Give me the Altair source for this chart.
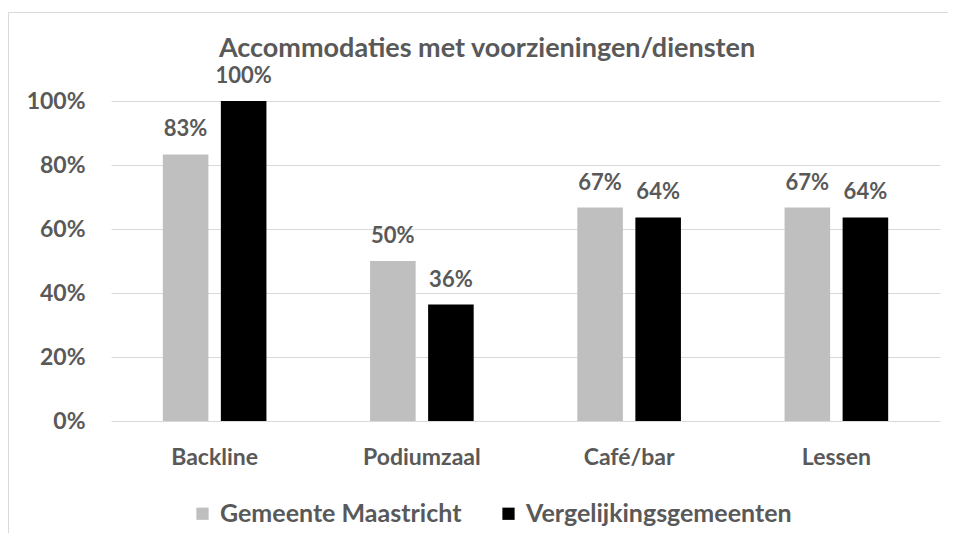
import altair as alt
import pandas as pd

title_text = "Accommodaties met voorzieningen/diensten"
categories = ["Backline", "Podiumzaal", "Café/bar", "Lessen"]
series_names = ["Gemeente Maastricht", "Vergelijkingsgemeenten"]
maastricht = [0.833, 0.50, 0.667, 0.667]
vergelijking = [1.00, 0.364, 0.636, 0.636]
y_ticks = [0, 0.2, 0.4, 0.6, 0.8, 1.0]
colors = ["#bfbfbf", "#000000"]

rows = []
for i, c in enumerate(categories):
    rows.append({"cat": c, "serie": series_names[0], "val": maastricht[i]})
    rows.append({"cat": c, "serie": series_names[1], "val": vergelijking[i]})
df = pd.DataFrame(rows)

FONT = "Lato"
TXT = "#595959"

x = alt.X("cat:N", sort=categories, title=None,
          scale=alt.Scale(paddingInner=0.5, paddingOuter=0.25),
          axis=alt.Axis(labelAngle=0, domain=False, ticks=False, labelPadding=25,
                        labelFont=FONT, labelFontSize=23, labelFontWeight="bold",
                        labelColor=TXT))
xo = alt.XOffset("serie:N", sort=series_names,
                 scale=alt.Scale(paddingInner=0.215, paddingOuter=0))
y = alt.Y("val:Q", title=None,
          scale=alt.Scale(domain=[0, 1]),
          axis=alt.Axis(values=y_ticks, format=".0%", domain=False, ticks=False,
                        labelPadding=26, grid=True, gridColor="#d9d9d9",
                        labelFont=FONT, labelFontSize=23, labelFontWeight="bold",
                        labelColor=TXT))

base = alt.Chart(df).encode(x=x, xOffset=xo, y=y)

bars = base.mark_bar().encode(
    color=alt.Color("serie:N", sort=series_names,
                    scale=alt.Scale(domain=series_names, range=colors),
                    legend=alt.Legend(title=None, orient="none", direction="horizontal",
                                      legendX=79, legendY=400,
                                      symbolType="square", symbolSize=150,
                                      symbolStrokeWidth=0, labelLimit=0,
                                      labelFont=FONT, labelFontSize=25,
                                      labelFontWeight="bold", labelColor=TXT,
                                      columnPadding=34, labelOffset=5))
)

labels = base.mark_text(dy=-18, baseline="alphabetic", font=FONT, fontSize=22,
                        fontWeight="bold", color=TXT).encode(
    text=alt.Text("val:Q", format=".0%")
)

one = pd.DataFrame({"k": [0]})
frame_left = alt.Chart(one).mark_rule(color="#d9d9d9", strokeWidth=1).encode(
    x=alt.value(-102.5), y=alt.value(-88.5), y2=alt.value(700))
frame_top = alt.Chart(one).mark_rule(color="#d9d9d9", strokeWidth=1).encode(
    x=alt.value(-102.5), x2=alt.value(900), y=alt.value(-88.5))

title = alt.Chart(pd.DataFrame({"t": [title_text]})).mark_text(
    font=FONT, fontSize=27, fontWeight="bold", color=TXT,
    align="center", baseline="alphabetic"
).encode(text="t:N", x=alt.value(376), y=alt.value(-44))

chart = alt.layer(frame_left, frame_top, bars, labels, title).properties(
    width=829, height=320,
    autosize=alt.AutoSizeParams(type="none"),
    padding={"left": 103, "top": 93, "right": 8, "bottom": 112},
).configure_view(stroke=None)

chart.save("out.html", embed_options={"renderer": "svg", "actions": False})
